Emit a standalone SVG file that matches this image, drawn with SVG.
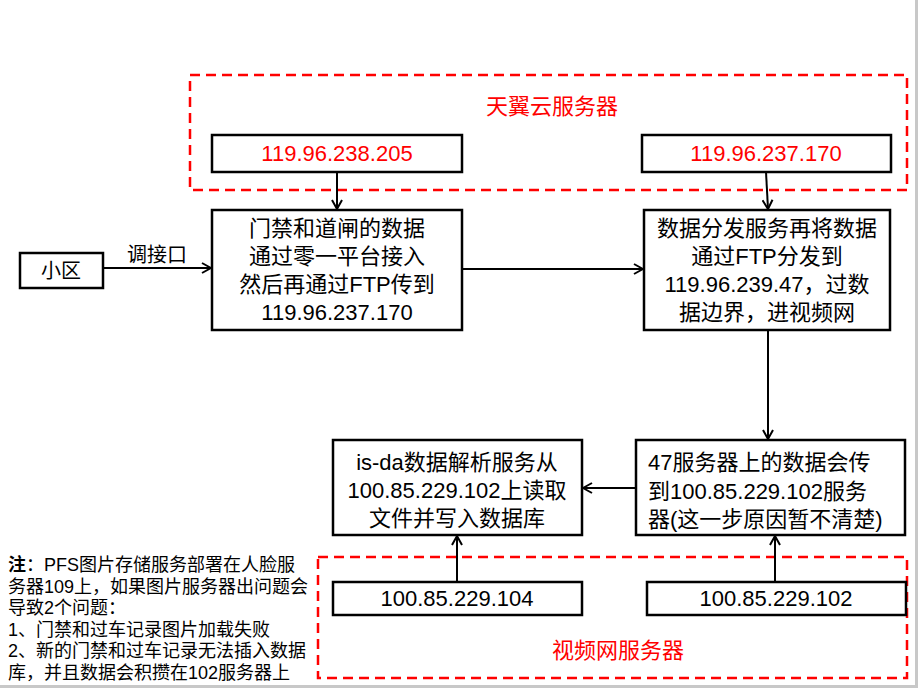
<svg xmlns="http://www.w3.org/2000/svg" width="918" height="688" viewBox="0 0 918 688">
<defs>
<marker id="arr" viewBox="0 0 12 12" refX="11" refY="6" markerWidth="12" markerHeight="12" markerUnits="userSpaceOnUse" orient="auto">
<path d="M2,1 L11,6 L2,11" fill="none" stroke="#000" stroke-width="2"/>
</marker>
<style>
.box{fill:#fff;stroke:#000;stroke-width:2.5}
.dash{fill:none;stroke:#ff0000;stroke-width:2.5;stroke-dasharray:10,6}
.t{font-family:"Liberation Sans","Noto Sans CJK SC",sans-serif;font-size:22px;fill:#000;text-anchor:middle}
.r{fill:#ff0000}
.n{font-family:"Liberation Sans","Noto Sans CJK SC",sans-serif;font-size:18px;fill:#000}
.c{fill:none;stroke:#000;stroke-width:2;marker-end:url(#arr)}
</style>
</defs>
<rect x="0" y="0" width="918" height="688" fill="#fff"/>
<line x1="916.5" y1="0" x2="916.5" y2="688" stroke="#c8c8c8" stroke-width="3"/>
<line x1="0" y1="686.5" x2="918" y2="686.5" stroke="#c8c8c8" stroke-width="3"/>

<g id="cloud-group">
<rect class="dash" x="190" y="75" width="717" height="115"/>
<text class="t r" x="552" y="114">天翼云服务器</text>
</g>
<g id="video-group">
<rect class="dash" x="318" y="557" width="589" height="121"/>
<text class="t r" x="618" y="658">视频网服务器</text>
</g>

<g id="connectors">
<line class="c" x1="337" y1="172" x2="337" y2="209"/>
<line class="c" x1="766" y1="172" x2="768" y2="209"/>
<line class="c" x1="103" y1="268" x2="211" y2="268"/>
<text class="t" x="157" y="262" style="font-size:20px">调接口</text>
<line class="c" x1="462" y1="269" x2="643" y2="269"/>
<line class="c" x1="768" y1="330" x2="768" y2="439"/>
<line class="c" x1="636" y1="488" x2="583" y2="488"/>
<line class="c" x1="457" y1="582" x2="457" y2="536"/>
<line class="c" x1="775" y1="582" x2="775" y2="536"/>
</g>

<g id="n-ip205">
<rect class="box" x="212" y="135" width="250" height="37"/>
<text class="t r" x="337" y="161">119.96.238.205</text>
</g>
<g id="n-ip170">
<rect class="box" x="642" y="135" width="249" height="37"/>
<text class="t r" x="766" y="161">119.96.237.170</text>
</g>
<g id="n-xiaoqu">
<rect class="box" x="20" y="253" width="83" height="35"/>
<text class="t" x="61" y="278" style="font-size:20px">小区</text>
</g>
<g id="n-main1">
<rect class="box" x="212" y="210" width="250" height="120"/>
<text class="t" x="337" y="236">门禁和道闸的数据</text>
<text class="t" x="337" y="264">通过零一平台接入</text>
<text class="t" x="337" y="292">然后再通过FTP传到</text>
<text class="t" x="337" y="320">119.96.237.170</text>
</g>
<g id="n-main2">
<rect class="box" x="644" y="210" width="246" height="120"/>
<text class="t" x="767" y="236">数据分发服务再将数据</text>
<text class="t" x="767" y="264">通过FTP分发到</text>
<text class="t" x="767" y="292">119.96.239.47，过数</text>
<text class="t" x="767" y="320">据边界，进视频网</text>
</g>
<g id="n-47">
<rect class="box" x="636" y="440" width="269" height="95"/>
<text class="t" x="648" y="470" style="text-anchor:start">47服务器上的数据会传</text>
<text class="t" x="648" y="499" style="text-anchor:start">到100.85.229.102服务</text>
<text class="t" x="648" y="527" style="text-anchor:start">器(这一步原因暂不清楚)</text>
</g>
<g id="n-isda">
<rect class="box" x="333" y="440" width="249" height="95"/>
<text class="t" x="457" y="470">is-da数据解析服务从</text>
<text class="t" x="457" y="498">100.85.229.102上读取</text>
<text class="t" x="457" y="526">文件并写入数据库</text>
</g>
<g id="n-104">
<rect class="box" x="333" y="582" width="249" height="33"/>
<text class="t" x="457" y="606">100.85.229.104</text>
</g>
<g id="n-102">
<rect class="box" x="647" y="582" width="259" height="33"/>
<text class="t" x="776" y="606">100.85.229.102</text>
</g>

<g id="note">
<text class="n" x="8" y="571"><tspan font-weight="bold">注</tspan>：PFS图片存储服务部署在人脸服</text>
<text class="n" x="8" y="593">务器109上，如果图片服务器出问题会</text>
<text class="n" x="8" y="614">导致2个问题：</text>
<text class="n" x="8" y="636">1、门禁和过车记录图片加载失败</text>
<text class="n" x="8" y="657">2、新的门禁和过车记录无法插入数据</text>
<text class="n" x="8" y="679">库，并且数据会积攒在102服务器上</text>
</g>
</svg>
